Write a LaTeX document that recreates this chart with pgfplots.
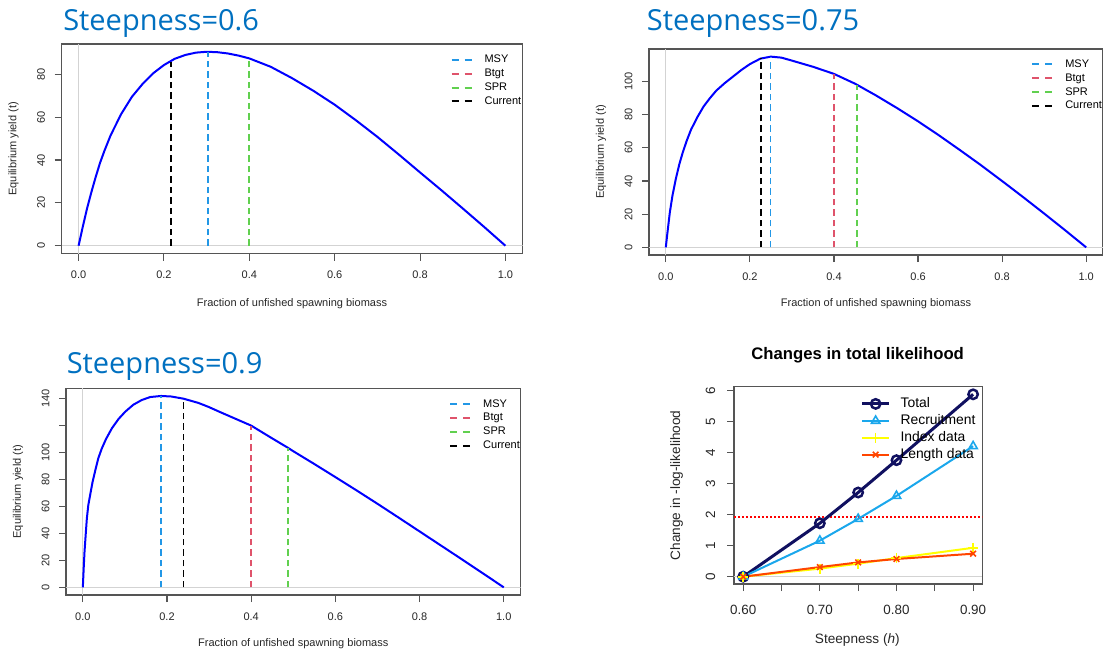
\documentclass[border=0pt]{standalone}
\usepackage{fontspec}
\setmainfont{Liberation Sans}
\newfontfamily\titlefont{Open Sans}
\usepackage{pgfplots}
\pgfplotsset{compat=1.18}

\definecolor{msy}{HTML}{2297E6}
\definecolor{btgt}{HTML}{DF536B}
\definecolor{spr}{HTML}{61D04F}
\definecolor{ttl}{HTML}{0070C0}
\definecolor{navyline}{HTML}{101060}
\definecolor{recr}{HTML}{1AA7EC}
\definecolor{idx}{HTML}{FFFF00}
\definecolor{lenc}{HTML}{FF4500}
\definecolor{boxgray}{HTML}{555555}
\definecolor{zerogray}{HTML}{D3D3D3}

\pgfplotsset{
  rplot/.style={
    scale only axis, anchor=south west,
    axis line style={boxgray, line width=1.1pt},
    tick style={boxgray, line width=1.1pt},
    tick align=outside, tick pos=left,
    major tick length=7pt,
    /pgf/number format/assume math mode=true,
  },
  yieldplot/.style={
    rplot, xmin=-0.04, xmax=1.04,
    xtick={0,0.2,0.4,0.6,0.8,1},
    xticklabels={0.0,0.2,0.4,0.6,0.8,1.0},
    ticklabel style={font=\fontsize{11}{13}\selectfont, text=black!85},
    xticklabel style={anchor=center, yshift=-14.5pt},
    yticklabel style={anchor=center, xshift=-13.5pt, rotate=90},
    label style={font=\fontsize{11}{13}\selectfont, text=black!85},
    xlabel={Fraction of unfished spawning biomass},
    ylabel={Equilibrium yield (t)},
    title style={font=\titlefont\fontsize{29}{34}\selectfont, text=ttl, anchor=base west, inner sep=0pt, yshift=-6pt},
    legend style={draw=none, fill=none, anchor=north west, font=\fontsize{11}{13}\selectfont,
      row sep=1.8pt, column sep=10pt, nodes={inner sep=1pt, text height=8pt, text depth=2pt}},
    legend cell align=left,
    legend image code/.code={\draw[##1, line width=2pt, dash pattern=on 7pt off 6pt] (0pt,0pt) -- (21pt,0pt);},
  },
  curve/.style={blue, line width=2pt, forget plot},
  zline/.style={zerogray, line width=1.1pt, forget plot},
  refl/.style={line width=1.8pt, dash pattern=on 6.5pt off 4pt},
}

% yield curves
\pgfplotstableread{
x y
0 0
0.005 4.5
0.01 9
0.02 17.5
0.03 25
0.04 32
0.05 38.5
0.06 44
0.075 51.5
0.1 61.5
0.125 69.5
0.15 75.5
0.175 80.5
0.2 84.3
0.225 87.2
0.25 89
0.275 90.1
0.3 90.5
0.325 90.3
0.35 89.7
0.375 88.7
0.4 87.4
0.45 83.5
0.5 78.2
0.55 72.3
0.6 65.8
0.65 58.5
0.7 50.8
0.75 42.6
0.8 34.2
0.85 25.9
0.9 17.4
0.95 8.8
1.0 0
}\hsix
\pgfplotstableread{
x y
0 0
0.003 7
0.0095 21
0.016 31.5
0.024 41.5
0.032 50
0.04 57
0.05 64.5
0.06 71
0.075 78.5
0.09 85
0.105 90
0.12 94.5
0.14 99
0.16 103
0.18 107
0.2 110.5
0.225 113.8
0.25 115
0.275 114.4
0.3 112.6
0.35 108.9
0.4 104.6
0.45 98.7
0.5 91.6
0.55 84
0.6 76
0.65 67.5
0.7 58.6
0.75 49.5
0.8 40
0.85 30.3
0.9 20.4
0.95 10.3
1.0 0
}\hsevenfive
\pgfplotstableread{
x y
0 0
0.002 14
0.004 26.5
0.007 40
0.0095 51
0.013 61
0.0174 68.6
0.023 78
0.029 86
0.037 96
0.045 103
0.055 110
0.069 118
0.085 125
0.101 130.4
0.12 135.5
0.14 139
0.16 141.2
0.186 142
0.21 141.6
0.239 140
0.275 136.8
0.3 133.7
0.325 130.2
0.35 126.8
0.375 123.4
0.4 120
0.45 110.5
0.487 103.6
0.5 101
0.55 91.5
0.6 81.8
0.65 72
0.7 62
0.75 51.8
0.8 41.5
0.85 31.2
0.9 20.9
0.95 10.5
1.0 0
}\hnine

\begin{document}
\begin{tikzpicture}
\path[use as bounding box] (0pt,0pt) rectangle (1103pt,-651pt);

% ---- Steepness = 0.6
\begin{axis}[yieldplot, at={(61.5pt,-253.5pt)}, width=461pt, height=209.5pt,
  ymin=-3.62, ymax=94.12, ytick={0,20,40,60,80}, yticklabels={0,20,40,60,80},
  xlabel style={at={(axis description cs:0.5,0)}, anchor=base, yshift=-52.5pt},
  ylabel style={at={(axis description cs:-0.1041,0.5)}, anchor=center},
  title={Steepness=0.6}, title style={at={(axis description cs:0.0035,1.0668)}},
  legend style={at={(axis description cs:0.837,0.963)}}]
\addplot[zline] coordinates {(-0.04,0) (1.04,0)};
\addplot[zline] coordinates {(0,-3.62) (0,94.12)};
\addplot[curve] table {\hsix};
\addplot[refl, msy] coordinates {(0.303,0) (0.303,90.5)};
\addplot[refl, btgt] coordinates {(0.4,0) (0.4,86.5)};
\addplot[refl, spr] coordinates {(0.4,0) (0.4,86.5)};
\addplot[refl, black] coordinates {(0.216,0) (0.216,85.8)};
\legend{MSY,Btgt,SPR,Current}
\end{axis}

% ---- Steepness = 0.75
\begin{axis}[yieldplot, at={(649pt,-255pt)}, width=454pt, height=206pt,
  ymin=-4.6, ymax=119.6, ytick={0,20,40,60,80,100}, yticklabels={0,20,40,60,80,100},
  xlabel style={at={(axis description cs:0.5,0)}, anchor=base, yshift=-51pt},
  ylabel style={at={(axis description cs:-0.1057,0.5)}, anchor=center},
  title={Steepness=0.75}, title style={at={(axis description cs:-0.005,1.0922)}},
  legend style={at={(axis description cs:0.835,0.965)}}]
\addplot[zline] coordinates {(-0.04,0) (1.04,0)};
\addplot[zline] coordinates {(0,-4.6) (0,119.6)};
\addplot[curve] table {\hsevenfive};
\addplot[refl, msy] coordinates {(0.249,0) (0.249,115)};
\addplot[refl, btgt] coordinates {(0.4,0) (0.4,104.6)};
\addplot[refl, spr] coordinates {(0.455,0) (0.455,98)};
\addplot[refl, black] coordinates {(0.226,0) (0.226,114.4)};
\legend{MSY,Btgt,SPR,Current}
\end{axis}

% ---- Steepness = 0.9
\begin{axis}[yieldplot, at={(66pt,-595pt)}, width=454.6pt, height=206.7pt,
  ymin=-5.68, ymax=147.68, ytick={0,20,40,60,80,100,120,140}, yticklabels={0,20,40,60,80,100,{},140},
  xlabel style={at={(axis description cs:0.5,0)}, anchor=base, yshift=-51pt},
  ylabel style={at={(axis description cs:-0.1056,0.5)}, anchor=center},
  title={Steepness=0.9}, title style={at={(axis description cs:0.0013,1.0726)}},
  legend style={at={(axis description cs:0.836,0.963)}}]
\addplot[zline] coordinates {(-0.04,0) (1.04,0)};
\addplot[zline] coordinates {(0,-5.68) (0,147.68)};
\addplot[curve] table {\hnine};
\addplot[refl, msy] coordinates {(0.186,0) (0.186,142)};
\addplot[refl, btgt] coordinates {(0.4,0) (0.4,120)};
\addplot[refl, spr] coordinates {(0.487,0) (0.487,103.6)};
\addplot[refl, black] coordinates {(0.239,0) (0.239,140)};
\legend{MSY,Btgt,SPR,Current}
\end{axis}

% ---- Changes in total likelihood
\begin{axis}[rplot, at={(734pt,-584pt)}, width=248.3pt, height=197.3pt,
  xmin=0.588, xmax=0.912, ymin=-0.235, ymax=6.115,
  xtick={0.6,0.65,0.7,0.75,0.8,0.85,0.9}, xticklabels={0.60,{},0.70,{},0.80,{},0.90},
  ytick={0,1,2,3,4,5,6}, yticklabels={0,1,2,3,4,5,6},
  ticklabel style={font=\fontsize{13.4}{16}\selectfont, text=black!85},
  xticklabel style={anchor=center, yshift=-19pt},
  yticklabel style={anchor=center, xshift=-16.5pt, rotate=90},
  xlabel={Steepness (\textit{h})}, ylabel={Change in -log-likelihood},
  label style={font=\fontsize{13.6}{16}\selectfont, text=black!85},
  xlabel style={at={(axis description cs:0.4966,0)}, anchor=base, yshift=-59.3pt},
  ylabel style={at={(axis description cs:-0.2308,0.5)}, anchor=center},
  title={Changes in total likelihood},
  title style={font=\bfseries\fontsize{16.7}{20}\selectfont, at={(axis description cs:0.498,1.1389)}, anchor=base, yshift=-6pt},
  legend style={draw=none, fill=none, at={(axis description cs:0.498,0.962)}, anchor=north west,
    font=\fontsize{13.9}{16}\selectfont, row sep=1.9pt, column sep=9pt,
    nodes={inner sep=1pt, text height=10pt, text depth=3pt}},
  legend cell align=left,
  legend image code/.code={\draw[mark repeat=2,mark phase=2,#1] plot coordinates {(0pt,0pt) (13.3pt,0pt) (26.7pt,0pt)};},
]
\addplot[zerogray, line width=1.1pt, forget plot] coordinates {(0.588,0) (0.912,0)};
\addplot[color=red, line width=1.4pt, dash pattern=on 2pt off 2pt, forget plot] coordinates {(0.588,1.92) (0.912,1.92)};
\addplot[navyline, line width=3pt, mark=o, mark size=4.7pt, mark options={line width=2.5pt}]
  coordinates {(0.6,0) (0.7,1.72) (0.75,2.71) (0.8,3.75) (0.9,5.87)};
\addplot[recr, line width=2pt, mark=triangle, mark size=4.8pt, mark options={line width=1.6pt}]
  coordinates {(0.6,0) (0.7,1.16) (0.75,1.86) (0.8,2.6) (0.9,4.2)};
\addplot[idx, line width=2pt, mark=+, mark size=5pt, mark options={line width=1.6pt}]
  coordinates {(0.6,0) (0.7,0.26) (0.75,0.42) (0.8,0.6) (0.9,0.93)};
\addplot[lenc, line width=2pt, mark=x, mark size=4pt, mark options={line width=1.6pt}]
  coordinates {(0.6,0) (0.7,0.31) (0.75,0.46) (0.8,0.57) (0.9,0.74)};
\legend{Total,Recruitment,Index data,Length data}
\end{axis}
\end{tikzpicture}
\end{document}
